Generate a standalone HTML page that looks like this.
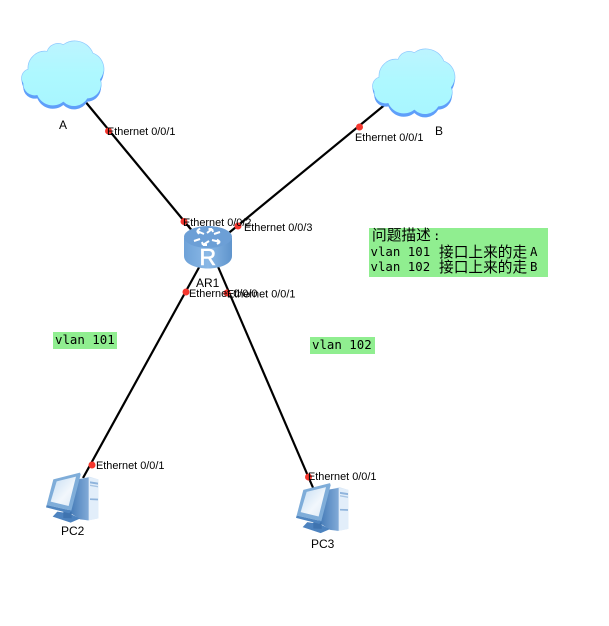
<!DOCTYPE html>
<html>
<head>
<meta charset="utf-8">
<style>
html,body{margin:0;padding:0;background:#fff;}
svg{display:block;}
.e{font:10.9px "Liberation Sans",sans-serif;fill:#000;}
.n{font:12px "Liberation Sans",sans-serif;fill:#000;}
.m{font:12.4px "DejaVu Sans Mono","Liberation Mono",monospace;fill:#000;}
.c{font:14.7px "Liberation Sans","Noto Sans CJK SC",sans-serif;fill:#000;}
</style>
</head>
<body>
<svg width="609" height="626" viewBox="0 0 609 626" xmlns="http://www.w3.org/2000/svg">
<defs>
<linearGradient id="cg" x1="0" y1="0" x2="0" y2="1"><stop offset="0" stop-color="#bdf4ff"/><stop offset="0.5" stop-color="#aef8ff"/><stop offset="1" stop-color="#a8f6ff"/></linearGradient>
<linearGradient id="body" x1="0" y1="0" x2="1" y2="0"><stop offset="0" stop-color="#6ea2d8"/><stop offset="0.5" stop-color="#8ab8e6"/><stop offset="1" stop-color="#5f94cc"/></linearGradient>
<linearGradient id="scr" x1="0" y1="0" x2="1" y2="1"><stop offset="0" stop-color="#c4dcf2"/><stop offset="0.6" stop-color="#f2f7fc"/><stop offset="1" stop-color="#dce9f6"/></linearGradient>
<linearGradient id="side" x1="0" y1="0" x2="1" y2="0"><stop offset="0" stop-color="#3f76b4"/><stop offset="1" stop-color="#82abd8"/></linearGradient>
<path id="cp" d="M70 190 A28 28 0 0 1 85 148 A50 50 0 0 1 142 95 A34 34 0 0 1 190 75 A58 58 0 0 1 278 100 A50 50 0 0 1 300 178 A42 42 0 0 1 262 235 A46 46 0 0 1 190 245 A50 50 0 0 1 112 225 A34 34 0 0 1 70 190 Z"/>
<g id="cloud">
  <use href="#cp" fill="#8fc9ff" stroke="#8fc9ff" stroke-width="4"/>
  <use href="#cp" fill="#5f9ffa" transform="translate(0,10)"/>
  <use href="#cp" fill="url(#cg)"/>
</g>
<g id="pc">
  <polygon points="150,88 178,80 205,88 205,205 172,212 150,205" fill="#d6e6f6"/>
  <polygon points="176,82 205,88 205,205 176,211" fill="#e2eefa"/>
  <polygon points="180,94 204,98 204,104 180,100" fill="#8fb4dc"/>
  <polygon points="180,104 204,108 204,112 180,108" fill="#a6c4e4"/>
  <polygon points="180,145 204,146 204,151 180,150" fill="#8fb4dc"/>
  <polygon points="130,90 176,82 176,211 150,208 115,185" fill="url(#side)"/>
  <polygon points="82,185 118,190 150,206 122,218 68,200" fill="#4d83bf"/>
  <polygon points="100,182 125,186 125,205 100,204" fill="#3f74b0"/>
  <polygon points="70,88 150,68 152,74 124,182 50,165" fill="#7fadd9"/>
  <polygon points="80,94 138,80 116,168 62,155" fill="url(#scr)"/>
  <polygon points="50,165 124,182 118,190 48,172" fill="#4f85c0"/>
</g>
</defs>

<g stroke="#000" stroke-width="2.2" fill="none">
  <line x1="84" y1="100" x2="208" y2="250"/>
  <line x1="387" y1="103" x2="208" y2="250"/>
  <line x1="202" y1="262" x2="83" y2="478"/>
  <line x1="216" y1="262" x2="314" y2="490"/>
</g>

<use href="#cloud" transform="translate(0,20) scale(.3333)"/>
<use href="#cloud" transform="translate(351,28) scale(.3333)"/>

<!-- router -->
<path d="M184 238 V256 C184 264 196 268.5 208 268.5 C220 268.5 232 264 232 256 V238 Z" fill="url(#body)"/>
<ellipse cx="208" cy="237" rx="24" ry="11" fill="#6c9fd6"/>
<g stroke="#fff" stroke-width="2" fill="none">
  <path d="M204 234 L197 231 M197 231 l3 -2.5 M197 231 l2 3"/>
  <path d="M207 233 L212 229 M212 229 l-3.5 0 M212 229 l1 3"/>
  <path d="M212 240 L220 242 M220 242 l-3 -2.5 M220 242 l-3 2"/>
  <path d="M209 241 L203 245 M203 245 l4 0 M203 245 l-1 -3"/>
  <path d="M214 234 L220 232 M200 239 L194 241"/>
</g>
<text x="199.500" y="265" font-family="Liberation Sans, sans-serif" font-size="23" fill="#fff" stroke="#fff" stroke-width=".6">R</text>

<use href="#pc" transform="translate(30,450) scale(.3333)"/>
<use href="#pc" transform="translate(280,460.5) scale(.3333)"/>

<g fill="#f5372e">
  <circle cx="108.500" cy="131" r="3.500"/>
  <circle cx="359.500" cy="127" r="3.500"/>
  <circle cx="184" cy="221.500" r="3.500"/>
  <circle cx="238" cy="226" r="3.500"/>
  <circle cx="186" cy="292" r="3.500"/>
  <circle cx="227" cy="293" r="3.500"/>
  <circle cx="92" cy="465" r="3.500"/>
  <circle cx="308.500" cy="477" r="3.500"/>
</g>

<text class="e" x="107" y="135">Ethernet 0/0/1</text>
<text class="e" x="355" y="141">Ethernet 0/0/1</text>
<text class="e" x="183" y="226">Ethernet 0/0/2</text>
<text class="e" x="244" y="231">Ethernet 0/0/3</text>
<text class="e" x="189" y="297">Ethernet 0/0/0</text>
<text class="e" x="227" y="297.500">Ethernet 0/0/1</text>
<text class="e" x="96" y="469">Ethernet 0/0/1</text>
<text class="e" x="308" y="480">Ethernet 0/0/1</text>

<text class="n" x="59" y="129">A</text>
<text class="n" x="435" y="135">B</text>
<text class="n" x="196" y="287">AR1</text>
<text class="n" x="61" y="535">PC2</text>
<text class="n" x="311" y="548">PC3</text>

<rect x="53" y="332" width="64" height="17" fill="#90ee90"/>
<text class="m" x="55" y="344">vlan 101</text>
<rect x="310" y="337" width="65" height="17" fill="#90ee90"/>
<text class="m" x="312" y="349">vlan 102</text>

<rect x="369" y="228" width="179" height="49" fill="#90ee90"/>
<text class="c" x="372" y="240">问题描述</text>
<text class="m" x="433" y="240">:</text>
<text class="m" x="370.500" y="256">vlan 101</text>
<text class="c" x="439" y="257">接口上来的走</text>
<text class="m" x="530" y="256">A</text>
<text class="m" x="370.500" y="271">vlan 102</text>
<text class="c" x="439" y="272">接口上来的走</text>
<text class="m" x="530" y="271">B</text>
</svg>
</body>
</html>
